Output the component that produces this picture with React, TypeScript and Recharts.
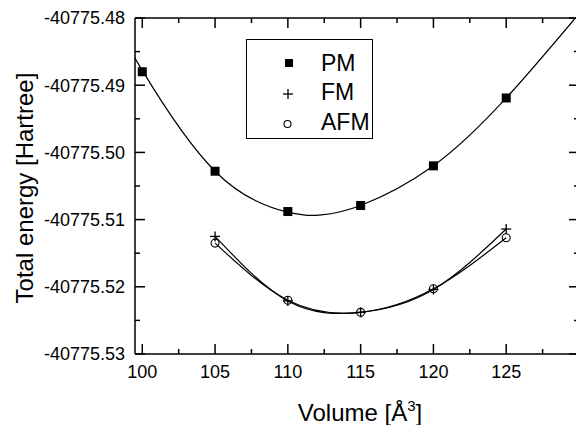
import React from 'react';
import { ComposedChart, Line, Scatter, XAxis, YAxis, Legend, Label } from 'recharts';

// ---- data ----
const pmVolumes = [100, 105, 110, 115, 120, 125];
const pmEnergy = [-40775.488, -40775.5028, -40775.5088, -40775.5079, -40775.502, -40775.4919];

const pmFitVolumes = [99.5, 100, 105, 110, 112.3, 115, 120, 125, 129.75];
const pmFitEnergy = [-40775.4857, -40775.4878, -40775.5028, -40775.5089, -40775.5093, -40775.5079, -40775.502, -40775.4919, -40775.48];

const magVolumes = [105, 110, 115, 120, 125];
const fmEnergy = [-40775.5125, -40775.5221, -40775.5238, -40775.5204, -40775.5114];
const afmEnergy = [-40775.5135, -40775.522, -40775.5238, -40775.5203, -40775.5127];

const xTicks = [100, 102.5, 105, 107.5, 110, 112.5, 115, 117.5, 120, 122.5, 125, 127.5];
const yTicks = [-40775.53, -40775.525, -40775.52, -40775.515, -40775.51, -40775.505, -40775.5, -40775.495, -40775.49, -40775.485, -40775.48];
const legendItems = ['PM', 'FM', 'AFM'];

const xDomain = [99.5, 130];
const yDomain = [-40775.53, -40775.48];

const FONT = 'Liberation Sans, Arial, Helvetica, sans-serif';

const zip = (xs: number[], ys: number[]) => xs.map((x, i) => ({ x, y: ys[i] }));
const pmData = zip(pmVolumes, pmEnergy);
const pmFitData = zip(pmFitVolumes, pmFitEnergy);
const fmData = zip(magVolumes, fmEnergy);
const afmData = zip(magVolumes, afmEnergy);

const isMajorX = (v: number) => Math.abs(v / 5 - Math.round(v / 5)) < 1e-6;
const isMajorY = (v: number) => Math.round(v * 1000) % 10 === 0;

const BottomTick = (p: any) => {
  const { x, y, payload } = p;
  const v = payload.value;
  const major = isMajorX(v);
  return (
    <g>
      <line x1={x} y1={y} x2={x} y2={y - (major ? 10 : 5)} stroke="#000" strokeWidth={1.5} />
      {major && (
        <text x={x} y={y + 24} textAnchor="middle" fontSize={18} fontFamily={FONT} fill="#000">
          {v}
        </text>
      )}
    </g>
  );
};

const TopTick = (p: any) => {
  const { x, y, payload } = p;
  const major = isMajorX(payload.value);
  return <line x1={x} y1={y} x2={x} y2={y + (major ? 10 : 5)} stroke="#000" strokeWidth={1.5} />;
};

const LeftTick = (p: any) => {
  const { x, y, payload } = p;
  const v = payload.value;
  const major = isMajorY(v);
  return (
    <g>
      <line x1={x} y1={y} x2={x + (major ? 10 : 5)} y2={y} stroke="#000" strokeWidth={1.5} />
      {major && (
        <text x={x - 10} y={y + 6.4} textAnchor="end" fontSize={18} fontFamily={FONT} fill="#000">
          {v.toFixed(2)}
        </text>
      )}
    </g>
  );
};

const RightTick = (p: any) => {
  const { x, y, payload } = p;
  const major = isMajorY(payload.value);
  return <line x1={x} y1={y} x2={x - (major ? 10 : 5)} y2={y} stroke="#000" strokeWidth={1.5} />;
};

const XTitle = (p: any) => {
  const vb = p.viewBox || { x: 135, y: 354, width: 444, height: 71 };
  const cx = vb.x + vb.width / 2 + 3;
  return (
    <text x={cx} y={vb.y + 67} textAnchor="middle" fontSize={24} fontFamily={FONT} fill="#000">
      Volume [Å
      <tspan dy={-10} fontSize={15}>3</tspan>
      <tspan dy={10} fontSize={24}>]</tspan>
    </text>
  );
};

const YTitle = (p: any) => {
  const vb = p.viewBox || { x: 0, y: 18, width: 135, height: 336 };
  const cy = vb.y + vb.height / 2 + 2;
  const bx = 33;
  return (
    <text
      x={bx}
      y={cy}
      transform={`rotate(-90, ${bx}, ${cy})`}
      textAnchor="middle"
      fontSize={24}
      fontFamily={FONT}
      fill="#000"
    >
      Total energy [Hartree]
    </text>
  );
};

const SquareMark = ({ cx, cy, size }: { cx: number; cy: number; size: number }) => (
  <rect x={cx - size / 2} y={cy - size / 2} width={size} height={size} fill="#000" />
);
const PlusMark = ({ cx, cy, size }: { cx: number; cy: number; size: number }) => (
  <g stroke="#000" strokeWidth={1.3}>
    <line x1={cx - size / 2} y1={cy} x2={cx + size / 2} y2={cy} />
    <line x1={cx} y1={cy - size / 2} x2={cx} y2={cy + size / 2} />
  </g>
);
const CircleMark = ({ cx, cy, r }: { cx: number; cy: number; r: number }) => (
  <circle cx={cx} cy={cy} r={r} fill="none" stroke="#000" strokeWidth={1.1} />
);

const LegendBox = () => (
  <svg width={128} height={101} style={{ display: 'block' }}>
    <rect x={0.5} y={0.5} width={126} height={99} fill="#fff" stroke="#000" strokeWidth={1} />
    {legendItems.map((name, i) => {
      const cy = 24 + i * 29.5;
      return (
        <g key={name}>
          {i === 0 && <SquareMark cx={43} cy={cy} size={8} />}
          {i === 1 && <PlusMark cx={42} cy={cy + 1.5} size={10} />}
          {i === 2 && <CircleMark cx={41.5} cy={cy + 2} r={3.5} />}
          <text x={75} y={cy + 7.5} fontSize={23} fontFamily={FONT} fill="#000">
            {name}
          </text>
        </g>
      );
    })}
  </svg>
);

export default function App() {
  return (
    <div style={{ position: 'absolute', left: 0, top: 0, width: 576, height: 425, overflow: 'hidden', background: '#fff' }}>
      <ComposedChart width={580} height={425} margin={{ top: 17, right: 0, bottom: 0, left: 0 }}>
        <XAxis
          xAxisId="bottom"
          type="number"
          dataKey="x"
          domain={xDomain}
          ticks={xTicks}
          interval={0}
          allowDataOverflow
          orientation="bottom"
          height={71}
          tickSize={0}
          tickMargin={0}
          tickLine={false}
          tick={<BottomTick />}
          axisLine={{ stroke: '#000', strokeWidth: 1.5 }}
          label={<Label content={<XTitle />} />}
        />
        <XAxis
          xAxisId="top"
          type="number"
          dataKey="x"
          domain={xDomain}
          ticks={xTicks}
          interval={0}
          allowDataOverflow
          orientation="top"
          height={1}
          tickSize={0}
          tickMargin={0}
          tickLine={false}
          tick={<TopTick />}
          axisLine={{ stroke: '#000', strokeWidth: 1.5 }}
        />
        <YAxis
          yAxisId="left"
          type="number"
          dataKey="y"
          domain={yDomain}
          ticks={yTicks}
          interval={0}
          allowDataOverflow
          orientation="left"
          width={135}
          tickSize={0}
          tickMargin={0}
          tickLine={false}
          tick={<LeftTick />}
          axisLine={{ stroke: '#000', strokeWidth: 1.5 }}
          label={<Label content={<YTitle />} />}
        />
        <YAxis
          yAxisId="right"
          type="number"
          dataKey="y"
          domain={yDomain}
          ticks={yTicks}
          interval={0}
          allowDataOverflow
          orientation="right"
          width={1}
          tickSize={0}
          tickMargin={0}
          tickLine={false}
          tick={<RightTick />}
          axisLine={{ stroke: '#000', strokeWidth: 1.5 }}
        />
        <Legend
          layout="horizontal"
          verticalAlign="middle"
          align="center"
          content={<LegendBox />}
          wrapperStyle={{ position: 'absolute', left: 246, top: 39, width: 128, height: 101 }}
        />
        <Line
          xAxisId="bottom"
          yAxisId="left"
          data={pmFitData}
          dataKey="y"
          type="natural"
          stroke="#000"
          strokeWidth={1.2}
          dot={false}
          activeDot={false}
          isAnimationActive={false}
          legendType="none"
        />
        <Scatter
          xAxisId="bottom"
          yAxisId="left"
          data={pmData}
          dataKey="y"
          isAnimationActive={false}
          shape={(p: any) => <SquareMark cx={p.cx} cy={p.cy} size={9} />}
        />
        <Line
          xAxisId="bottom"
          yAxisId="left"
          data={fmData}
          dataKey="y"
          type="natural"
          stroke="#000"
          strokeWidth={1.2}
          activeDot={false}
          isAnimationActive={false}
          dot={(p: any) => <PlusMark key={`fm-${p.index}`} cx={p.cx} cy={p.cy} size={10} />}
        />
        <Line
          xAxisId="bottom"
          yAxisId="left"
          data={afmData}
          dataKey="y"
          type="natural"
          stroke="#000"
          strokeWidth={1.2}
          activeDot={false}
          isAnimationActive={false}
          dot={(p: any) => <CircleMark key={`afm-${p.index}`} cx={p.cx} cy={p.cy} r={4} />}
        />
      </ComposedChart>
    </div>
  );
}
